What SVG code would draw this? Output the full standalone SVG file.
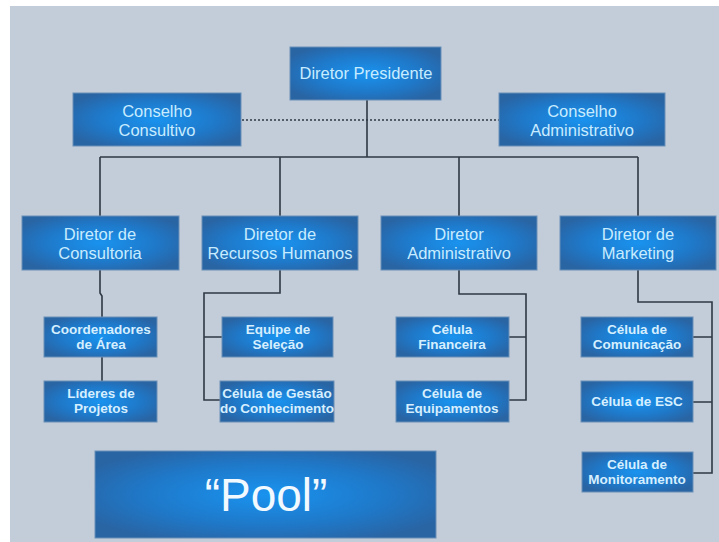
<svg xmlns="http://www.w3.org/2000/svg" width="719" height="542" viewBox="0 0 719 542">
<defs>
<radialGradient id="g" cx="50%" cy="50%" r="60%">
<stop offset="0" stop-color="#1993ef"/>
<stop offset="0.6" stop-color="#1f78c8"/>
<stop offset="1" stop-color="#2964a3"/>
</radialGradient>
<style>
.box{fill:url(#g);stroke:#6a90b8;stroke-width:1}
.t{font-family:"Liberation Sans",Arial,sans-serif;font-size:16.5px;fill:#c8ecff;text-anchor:middle}
.s{font-family:"Liberation Sans",Arial,sans-serif;font-size:13.5px;font-weight:bold;fill:#d6efff;text-anchor:middle}
.p{font-family:"Liberation Sans",Arial,sans-serif;font-size:46px;fill:#f2f9ff;text-anchor:middle}
.ln{fill:none;stroke:#2e3944;stroke-width:1.6}
.dot{fill:none;stroke:#2e3944;stroke-width:1.6;stroke-dasharray:2 2}
</style>
</defs>
<rect x="0" y="0" width="719" height="542" fill="#ffffff"/>
<rect x="10" y="6" width="709" height="536" fill="#c2cdd9"/>
<g id="connectors">
<path class="dot" d="M242 120H499"/>
<path class="ln" d="M367 100V157M100 157H638M100 157V216M280 157V216M459 157V216M638 157V216"/>
<path class="ln" d="M100 270V293L102 296V317M102 357V381"/>
<path class="ln" d="M280 270V293H204V400H220M204 337H222"/>
<path class="ln" d="M459 270V294H526V400H509M526 337H509"/>
<path class="ln" d="M638 270V302H712V473H693M712 337H693M712 402H693"/>
</g>
<g id="n-presidente"><rect class="box" x="290" y="47" width="151" height="53"/><text class="t" x="366" y="79">Diretor Presidente</text></g>
<g id="n-cons-consultivo"><rect class="box" x="73" y="93" width="168" height="53"/><text class="t" x="157" y="117">Conselho</text><text class="t" x="157" y="136">Consultivo</text></g>
<g id="n-cons-admin"><rect class="box" x="499" y="93" width="166" height="53"/><text class="t" x="582" y="117">Conselho</text><text class="t" x="582" y="136">Administrativo</text></g>
<g id="n-consultoria"><rect class="box" x="22" y="216" width="157" height="54"/><text class="t" x="100" y="240">Diretor de</text><text class="t" x="100" y="259">Consultoria</text></g>
<g id="n-rh"><rect class="box" x="202" y="216" width="156" height="54"/><text class="t" x="280" y="240">Diretor de</text><text class="t" x="280" y="259">Recursos Humanos</text></g>
<g id="n-adm"><rect class="box" x="381" y="216" width="156" height="54"/><text class="t" x="459" y="240">Diretor</text><text class="t" x="459" y="259">Administrativo</text></g>
<g id="n-mkt"><rect class="box" x="560" y="216" width="156" height="54"/><text class="t" x="638" y="240">Diretor de</text><text class="t" x="638" y="259">Marketing</text></g>
<g id="n-coord"><rect class="box" x="44" y="317" width="113" height="40"/><text class="s" x="101" y="334">Coordenadores</text><text class="s" x="101" y="349">de Área</text></g>
<g id="n-lideres"><rect class="box" x="44" y="381" width="113" height="41"/><text class="s" x="101" y="398">Líderes de</text><text class="s" x="101" y="413">Projetos</text></g>
<g id="n-equipe"><rect class="box" x="222" y="317" width="111" height="40"/><text class="s" x="278" y="334">Equipe de</text><text class="s" x="278" y="349">Seleção</text></g>
<g id="n-gestao"><rect class="box" x="220" y="381" width="114" height="41"/><text class="s" x="277" y="398">Célula de Gestão</text><text class="s" x="277" y="413">do Conhecimento</text></g>
<g id="n-fin"><rect class="box" x="396" y="317" width="113" height="40"/><text class="s" x="452" y="334">Célula</text><text class="s" x="452" y="349">Financeira</text></g>
<g id="n-equip"><rect class="box" x="396" y="381" width="113" height="41"/><text class="s" x="452" y="398">Célula de</text><text class="s" x="452" y="413">Equipamentos</text></g>
<g id="n-com"><rect class="box" x="581" y="317" width="112" height="40"/><text class="s" x="637" y="334">Célula de</text><text class="s" x="637" y="349">Comunicação</text></g>
<g id="n-esc"><rect class="box" x="581" y="381" width="112" height="41"/><text class="s" x="637" y="406">Célula de ESC</text></g>
<g id="n-monit"><rect class="box" x="582" y="452" width="111" height="40"/><text class="s" x="637" y="469">Célula de</text><text class="s" x="637" y="484">Monitoramento</text></g>
<g id="n-pool"><rect class="box" x="95" y="451" width="341" height="87"/><text class="p" x="266" y="511">“Pool”</text></g>
</svg>
